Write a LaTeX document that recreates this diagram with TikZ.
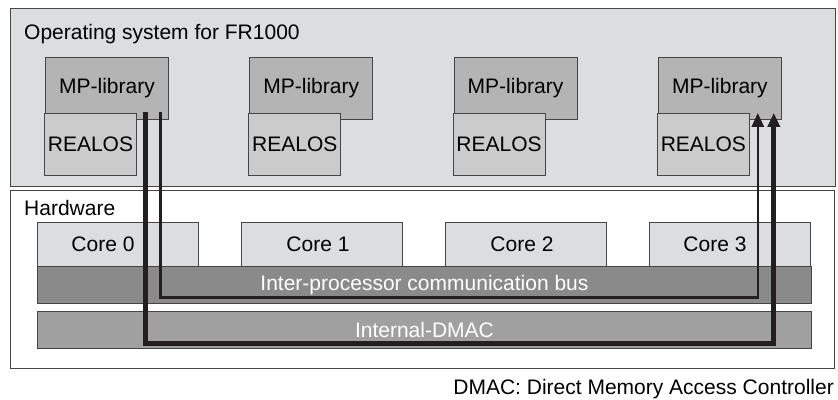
\documentclass[tikz,border=0pt]{standalone}
\usepackage{fontspec}
\setmainfont{Liberation Sans}
\usetikzlibrary{arrows.meta}
\definecolor{osgray}{HTML}{DCDDDF}
\definecolor{mpgray}{HTML}{B4B4B5}
\definecolor{realgray}{HTML}{CBCBCC}
\definecolor{busgray}{HTML}{8A8A8B}
\definecolor{dmacgray}{HTML}{A0A0A1}
\definecolor{edgegray}{HTML}{454545}
\definecolor{wirecol}{HTML}{231F20}
\tikzset{
  box/.style={draw=edgegray, line width=0.9pt, anchor=north west, inner sep=0pt},
  frame/.style={box, line width=1.1pt},
  mplib/.style={box, fill=mpgray, minimum width=123pt, minimum height=62pt},
  realos/.style={box, fill=realgray, minimum width=92pt, minimum height=62pt},
  corebox/.style={box, fill=osgray, minimum width=161pt, minimum height=44pt},
  busbar/.style={box, minimum width=774pt, minimum height=37pt, text=white},
  wire/.style={draw=wirecol, -{Triangle[length=14pt,width=12pt]}},
}
\begin{document}
\begin{tikzpicture}[x=1pt, y=-1pt, font=\fontsize{21pt}{25pt}\selectfont]
    \useasboundingbox (0,0) rectangle (838,399);
    \def\dx{204.3} % column pitch
    % operating system layer
    \node[frame, fill=osgray, minimum width=825pt, minimum height=178pt] (os) at (10,8) {};
    \node[anchor=base west, inner sep=0pt] (ostitle) at (24,39) {Operating system for FR1000};
    \node[mplib] (mp1) at (45,57) {MP-library};
    \node[realos] (rl1) at (44,113) {REALOS};
    \node[mplib] (mp2) at (45+\dx,57) {MP-library};
    \node[realos] (rl2) at (44+\dx,113) {REALOS};
    \node[mplib] (mp3) at (45+2*\dx,57) {MP-library};
    \node[realos] (rl3) at (44+2*\dx,113) {REALOS};
    \node[mplib] (mp4) at (45+3*\dx,57) {MP-library};
    \node[realos] (rl4) at (44+3*\dx,113) {REALOS};
    % hardware layer
    \node[frame, fill=white, minimum width=824pt, minimum height=178pt] (hw) at (10,190) {};
    \node[anchor=base west, inner sep=0pt] (hwtitle) at (24,215) {Hardware};
    \node[corebox, label={[xshift=-15pt]center:Core 0}] (core0) at (37,222) {};
    \node[corebox, label={[xshift=-4pt]center:Core 1}] (core1) at (241,222) {};
    \node[corebox, label={[xshift=-4pt]center:Core 2}] (core2) at (445,222) {};
    \node[corebox, label={[xshift=-15pt]center:Core 3}] (core3) at (649,222) {};
    \node[busbar, fill=busgray] (bus) at (37,266) {Inter-processor communication bus};
    \node[busbar, fill=dmacgray] (dmac) at (37,311) {Internal-DMAC};
    % transfer paths
    \draw[wire, line width=2.6pt] ([xshift=-8.5pt,yshift=8pt]mp1.south east) -- ++(0,185.5)
        -| ([xshift=-24pt,yshift=7pt]mp4.south east);
    \draw[wire, line width=5pt] ([xshift=-23.5pt,yshift=8pt]mp1.south east) -- ++(0,231.5)
        -| ([xshift=-8pt,yshift=7pt]mp4.south east);
    \node[anchor=base east, inner sep=0pt] (note) at (834,394) {DMAC: Direct Memory Access Controller};
\end{tikzpicture}
\end{document}
